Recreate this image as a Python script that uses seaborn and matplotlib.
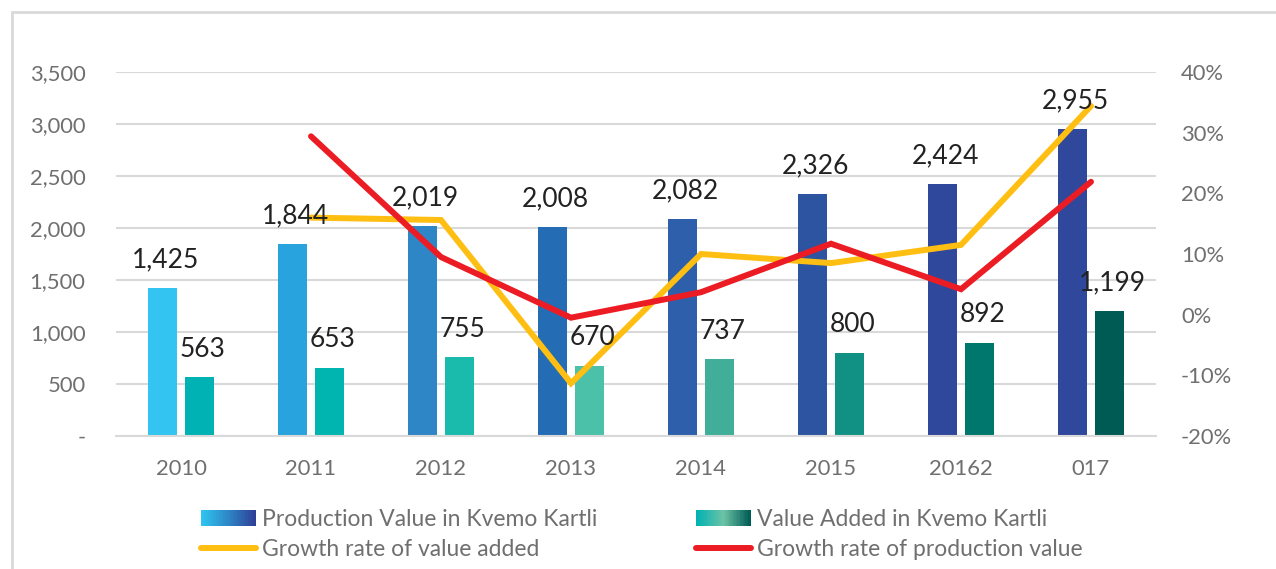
import numpy as np
import pandas as pd
import matplotlib
matplotlib.use("Agg")
import matplotlib.pyplot as plt
import seaborn as sns
from matplotlib.legend_handler import HandlerBase
from matplotlib.patches import Rectangle
from matplotlib.lines import Line2D
from matplotlib.colors import LinearSegmentedColormap
from matplotlib.ticker import FuncFormatter, MultipleLocator

# ---- data ----
years = ["2010", "2011", "2012", "2013", "2014", "2015", "2016", "2017"]
tick_labels = ["2010", "2011", "2012", "2013", "2014", "2015", "20162", "017"]
production_value = [1425, 1844, 2019, 2008, 2082, 2326, 2424, 2955]
value_added = [563, 653, 755, 670, 737, 800, 892, 1199]
growth_years_idx = [1, 2, 3, 4, 5, 6, 7]  # 2011..2017
growth_value_added = [16.0, 15.6, -11.3, 10.0, 8.5, 11.5, 34.4]
growth_production = [29.4, 9.5, -0.5, 3.7, 11.7, 4.2, 21.9]

prod_name = "Production Value in Kvemo Kartli"
va_name = "Value Added in Kvemo Kartli"
gva_name = "Growth rate of value added"
gpv_name = "Growth rate of production value"

prod_colors = ["#33C4F2", "#29A3DD", "#2F86C6", "#246DB4", "#2E5FAB", "#2D54A0", "#30489B", "#2F489B"]
va_colors = ["#00B2B4", "#00B5AF", "#1ABBAD", "#4CC1A9", "#40AE98", "#119183", "#00776C", "#005B55"]
yellow = "#FFBE12"
red = "#EC1C24"
tick_color = "#6F6F6F"
label_color = "#222222"
grid_color = "#D9D9D9"

sns.set_theme(style="white")
plt.rcParams["font.family"] = ["Lato", "DejaVu Sans"]

W, H = 1276, 569
fig = plt.figure(figsize=(W / 100, H / 100), dpi=100)
ax = fig.add_axes([116 / W, 1 - 436 / H, 1040 / W, 364 / H])

df = pd.DataFrame({
    "year": years * 2,
    "value": production_value + value_added,
    "series": [prod_name] * len(years) + [va_name] * len(years),
})
sns.barplot(data=df, x="year", y="value", hue="series", order=years,
            hue_order=[prod_name, va_name], width=0.57, gap=0.22,
            saturation=1, errorbar=None, legend=False, ax=ax)

for bar, c in zip(ax.containers[0], prod_colors):
    bar.set_facecolor(c)
    bar.set_edgecolor("none")
for bar, c in zip(ax.containers[1], va_colors):
    bar.set_facecolor(c)
    bar.set_edgecolor("none")

ax.set_xlim(-0.5, len(years) - 0.5)
ax.set_ylim(0, 3500)
ax.yaxis.set_major_locator(MultipleLocator(500))
ax.yaxis.set_major_formatter(FuncFormatter(lambda v, p: "-" if v == 0 else f"{int(v):,}"))
ax.set_xticks(range(len(years)), tick_labels)
ax.set_xlabel("")
ax.set_ylabel("")
ax.yaxis.grid(True, color=grid_color, lw=1.5)
ax.xaxis.grid(False)
ax.set_axisbelow(True)
for s in ["top", "right", "left"]:
    ax.spines[s].set_visible(False)
ax.spines["bottom"].set_color(grid_color)
ax.spines["bottom"].set_linewidth(1.5)
ax.tick_params(axis="x", length=0, pad=16.5, labelsize=15.8, labelcolor=tick_color)
ax.tick_params(axis="y", length=0, pad=22, labelsize=15.8, labelcolor=tick_color)

ax2 = ax.twinx()
sns.lineplot(x=growth_years_idx, y=growth_value_added, ax=ax2, color=yellow, lw=4.3,
             solid_capstyle="round", solid_joinstyle="miter")
sns.lineplot(x=growth_years_idx, y=growth_production, ax=ax2, color=red, lw=4.3,
             solid_capstyle="round", solid_joinstyle="miter")
ax2.set_ylim(-20, 40)
ax2.yaxis.set_major_locator(MultipleLocator(10))
ax2.yaxis.set_major_formatter(FuncFormatter(lambda v, p: f"{v:.0f}%"))
ax2.grid(False)
for s in ax2.spines.values():
    s.set_visible(False)
ax2.tick_params(axis="y", length=0, pad=18, labelsize=15.8, labelcolor=tick_color)
ax2.set_ylabel("")

# data labels on top of everything
for cont, vals in ((ax.containers[0], production_value), (ax.containers[1], value_added)):
    for bar, v in zip(cont, vals):
        xc = bar.get_x() + bar.get_width() / 2
        ax2.annotate(f"{v:,}", xy=(xc, v), xycoords=ax.transData,
                     xytext=(2, 15), textcoords="offset points",
                     ha="center", va="baseline", fontsize=19, color=label_color)


class GradientHandler(HandlerBase):
    def __init__(self, colors, n=40):
        super().__init__()
        self.cmap = LinearSegmentedColormap.from_list("g", colors)
        self.n = n

    def create_artists(self, legend, orig_handle, xdescent, ydescent, width, height, fontsize, trans):
        arts = []
        w = width / self.n
        for i in range(self.n):
            r = Rectangle((-xdescent + i * w, -ydescent), w * 1.05, height,
                          facecolor=self.cmap(i / (self.n - 1)), edgecolor="none", transform=trans)
            arts.append(r)
        return arts


h_prod = Rectangle((0, 0), 1, 1)
h_va = Rectangle((0, 0), 1, 1)
h_gva = Line2D([], [], color=yellow, lw=4.3, solid_capstyle="round")
h_gpv = Line2D([], [], color=red, lw=4.3, solid_capstyle="round")
leg = fig.legend([h_prod, h_gva, h_va, h_gpv], [prod_name, gva_name, va_name, gpv_name],
                 handler_map={h_prod: GradientHandler(["#2EC4F0", "#2E86C6", "#2F3F96"]),
                              h_va: GradientHandler(["#00B2B2", "#6CC3A5", "#005B55"])},
                 ncol=2, loc="upper left", bbox_to_anchor=(201 / W, 1 - 509 / H),
                 frameon=False, fontsize=16.5, handlelength=2.4, handleheight=0.66,
                 handletextpad=0.27, columnspacing=4.3, labelspacing=0.38, borderpad=0,
                 borderaxespad=0)
for t in leg.get_texts():
    t.set_color(tick_color)

# outer frame (top and left edges visible)
fig.add_artist(Line2D([12 / W, 12 / W], [0, 1 - 12 / H], transform=fig.transFigure, color=grid_color, lw=2))
fig.add_artist(Line2D([12 / W, 1], [1 - 12 / H, 1 - 12 / H], transform=fig.transFigure, color=grid_color, lw=2))

fig.savefig("out.png", dpi=100)
